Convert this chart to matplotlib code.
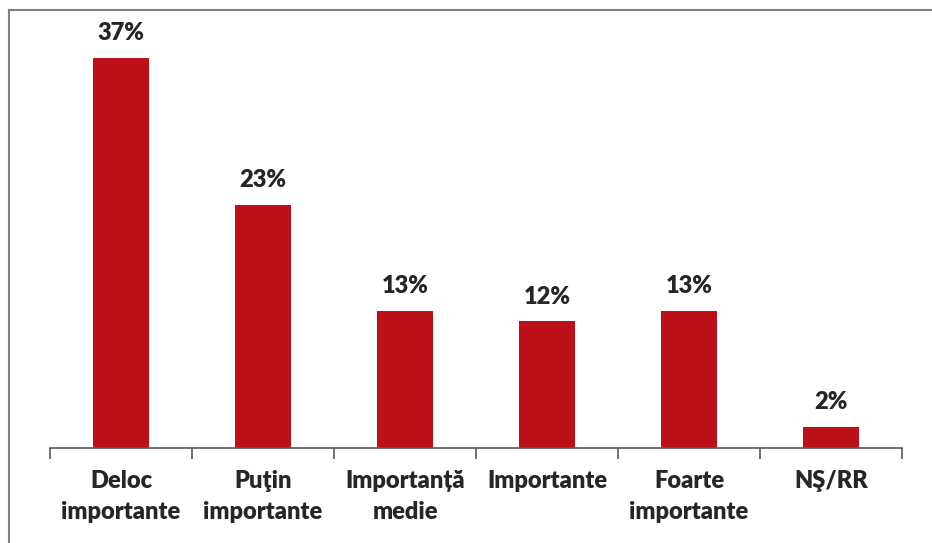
import matplotlib
matplotlib.use("Agg")
import matplotlib.pyplot as plt
from matplotlib.lines import Line2D

categories = ["Deloc\nimportante", "Puţin\nimportante", "Importanță\nmedie",
              "Importante", "Foarte\nimportante", "NŞ/RR"]
values = [37, 23, 13, 12, 13, 2]
value_labels = ["37%", "23%", "13%", "12%", "13%", "2%"]

W, H = 932, 543
fig = plt.figure(figsize=(W / 100, H / 100), dpi=100)
plt.rcParams['font.family'] = ['Lato', 'DejaVu Sans']

bar_color = "#BE1019"
text_color = "#262626"
FS = 17
FW = "heavy"

base_y = 448
top_y = 26
ax = fig.add_axes([50 / W, (H - base_y) / H, 852 / W, (base_y - top_y) / H])
x = list(range(len(categories)))
ax.bar(x, values, width=0.4, color=bar_color)
ax.set_xlim(-0.5, len(categories) - 0.5)
ax.set_ylim(0, 40)

for s in ["top", "right", "left"]:
    ax.spines[s].set_visible(False)
ax.spines["bottom"].set_color("#595959")
ax.spines["bottom"].set_linewidth(1.2)
ax.set_yticks([])
ax.set_xticks([i - 0.5 for i in range(len(categories) + 1)])
ax.set_xticklabels([])
ax.tick_params(axis="x", length=8, width=1.2, color="#595959", direction="out")

for xi, v, lab in zip(x, values, value_labels):
    ax.annotate(lab, (xi, v), xytext=(0, 10), textcoords="offset points",
                ha="center", va="bottom", fontsize=FS, fontweight=FW,
                color=text_color)

for xi, cat in zip(x, categories):
    ax.annotate(cat, (xi, 0), xytext=(0, -16), textcoords="offset points",
                ha="center", va="top", fontsize=FS, fontweight=FW,
                color=text_color, linespacing=1.5, annotation_clip=False)

# frame (left and top edges)
fig.add_artist(Line2D([9 / W, 9 / W], [0, 1 - 10 / H], transform=fig.transFigure,
                      color="#808080", linewidth=1.5))
fig.add_artist(Line2D([9 / W, 1], [1 - 10 / H, 1 - 10 / H], transform=fig.transFigure,
                      color="#808080", linewidth=1.5))

fig.savefig("out.png", dpi=100)
